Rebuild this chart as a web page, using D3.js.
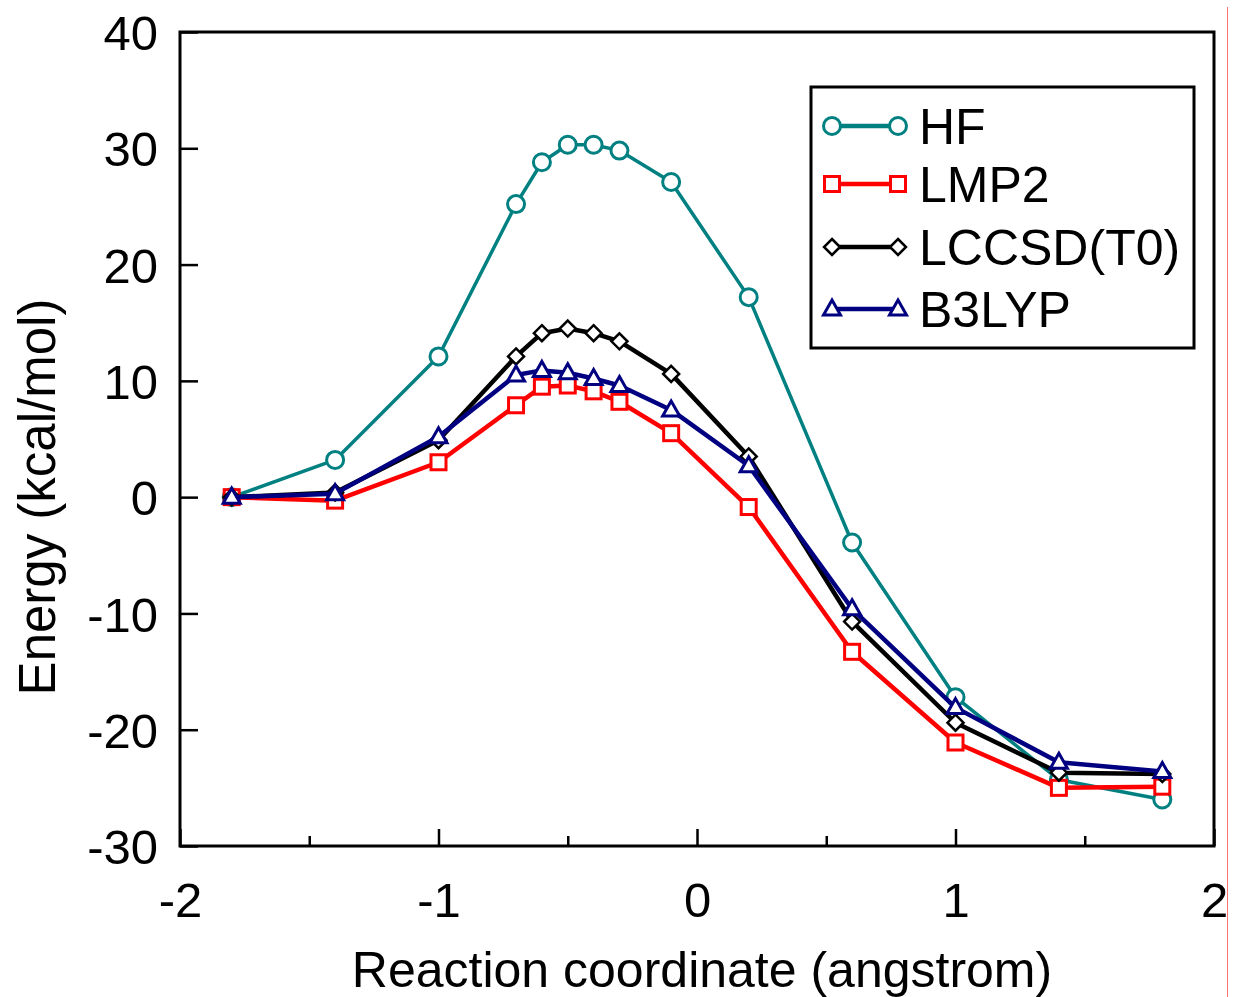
<!DOCTYPE html>
<html>
<head>
<meta charset="utf-8">
<script src="https://cdn.jsdelivr.net/npm/d3@7"></script>
<style>
  body { margin: 0; background: #fff; }
  svg { display: block; font-family: "Liberation Sans", Arial, sans-serif; }
</style>
</head>
<body>
<svg width="1236" height="997"></svg>
<script>
// reaction coordinate (angstrom)
var coord = [-1.8, -1.4, -1.0, -0.7, -0.6, -0.5, -0.4, -0.3, -0.1, 0.2, 0.6, 1.0, 1.4, 1.8];

// energies (kcal/mol)
var hf     = [0, 3.2, 12.1, 25.2, 28.8, 30.3, 30.3, 29.8, 27.1, 17.2, -3.9, -17.2, -24.3, -26.0];
var lmp2   = [0, -0.3, 3.0, 7.9, 9.5, 9.6, 9.1, 8.2, 5.5, -0.85, -13.3, -21.1, -25.0, -24.9];
var lccsd  = [0, 0.4, 4.9, 12.1, 14.1, 14.5, 14.1, 13.4, 10.6, 3.5, -10.7, -19.4, -23.7, -23.8];
var b3lyp  = [0, 0.3, 5.2, 10.5, 10.9, 10.7, 10.2, 9.6, 7.5, 2.7, -9.6, -18.1, -22.8, -23.6];

var seriesNames = ["HF", "LMP2", "LCCSD(T0)", "B3LYP"];
var xTicks = [-2, -1, 0, 1, 2];
var xMinor = [-1.5, -0.5, 0.5, 1.5];
var yTicks = [-30, -20, -10, 0, 10, 20, 30, 40];

var svg = d3.select("svg");

var x = d3.scaleLinear().domain([-2, 2]).range([180, 1214]);
var y = d3.scaleLinear().domain([-30, 40]).range([846, 32]);

var fmt = function(d){ return String(d); };   // plain hyphen minus

var series = [
  {name: seriesNames[0], values: hf,    color: "#008080", marker: "circle"},
  {name: seriesNames[1], values: lmp2,  color: "#ff0000", marker: "square"},
  {name: seriesNames[2], values: lccsd, color: "#000000", marker: "diamond"},
  {name: seriesNames[3], values: b3lyp, color: "#000080", marker: "triangle"}
];

// axes (ticks pointing in)
svg.append("g")
  .attr("transform", "translate(0,846)")
  .call(d3.axisBottom(x).tickValues(xTicks).tickSizeInner(-17).tickSizeOuter(0).tickFormat(fmt))
  .call(function(g){
    g.select(".domain").remove();
    g.selectAll(".tick line").attr("stroke", "#000").attr("stroke-width", 2.5);
    g.selectAll(".tick text").attr("font-size", 49).attr("fill", "#000")
      .attr("y", 0).attr("dy", "1.45em").style("font-family", "Liberation Sans, Arial, sans-serif");
  });

svg.append("g")
  .attr("transform", "translate(0,846)")
  .call(d3.axisBottom(x).tickValues(xMinor).tickSize(-10).tickFormat(""))
  .call(function(g){
    g.select(".domain").remove();
    g.selectAll(".tick line").attr("stroke", "#000").attr("stroke-width", 2.5);
  });

svg.append("g")
  .attr("transform", "translate(180,0)")
  .call(d3.axisLeft(y).tickValues(yTicks).tickSizeInner(-18).tickSizeOuter(0).tickFormat(fmt))
  .call(function(g){
    g.select(".domain").remove();
    g.selectAll(".tick line").attr("stroke", "#000").attr("stroke-width", 2.5);
    g.selectAll(".tick text").attr("font-size", 49).attr("fill", "#000")
      .attr("x", -22).attr("dy", "0.36em").style("font-family", "Liberation Sans, Arial, sans-serif");
  });

// frame
svg.append("rect")
  .attr("x", x(-2)).attr("y", y(40))
  .attr("width", x(2) - x(-2)).attr("height", y(-30) - y(40))
  .attr("fill", "none").attr("stroke", "#000").attr("stroke-width", 3);

// axis titles
svg.append("text")
  .attr("x", 702).attr("y", 987)
  .attr("text-anchor", "middle").attr("font-size", 50)
  .text("Reaction coordinate (angstrom)");

svg.append("text")
  .attr("transform", "translate(55,497) rotate(-90)")
  .attr("text-anchor", "middle").attr("font-size", 51)
  .text("Energy (kcal/mol)");

function drawMarker(g, type, cx, cy, color) {
  if (type === "circle") {
    g.append("circle").attr("cx", cx).attr("cy", cy).attr("r", 8.5)
      .attr("fill", "#fff").attr("stroke", color).attr("stroke-width", 3);
  } else if (type === "square") {
    g.append("rect").attr("x", cx - 7.5).attr("y", cy - 7.5).attr("width", 15).attr("height", 15)
      .attr("fill", "#fff").attr("stroke", color).attr("stroke-width", 3);
  } else if (type === "diamond") {
    g.append("path").attr("d", "M" + cx + "," + (cy - 8) + "L" + (cx + 8) + "," + cy + "L" + cx + "," + (cy + 8) + "L" + (cx - 8) + "," + cy + "Z")
      .attr("fill", "#fff").attr("stroke", color).attr("stroke-width", 2.5);
  } else {
    g.append("path").attr("d", "M" + cx + "," + (cy - 9) + "L" + (cx + 8.5) + "," + (cy + 6) + "L" + (cx - 8.5) + "," + (cy + 6) + "Z")
      .attr("fill", "#fff").attr("stroke", color).attr("stroke-width", 3);
  }
}

var line = d3.line()
  .x(function(d){ return x(d[0]); })
  .y(function(d){ return y(d[1]); });

series.forEach(function(s){
  var pts = coord.map(function(c, i){ return [c, s.values[i]]; });
  var g = svg.append("g");
  g.append("path").datum(pts)
    .attr("d", line)
    .attr("fill", "none")
    .attr("stroke", s.color)
    .attr("stroke-width", s.marker === "circle" ? 3.5 : 4.5)
    .attr("stroke-linejoin", "round");
  pts.forEach(function(p){
    drawMarker(g, s.marker, x(p[0]), y(p[1]), s.color);
  });
});

// legend
var leg = svg.append("g");
leg.append("rect")
  .attr("x", 811).attr("y", 87).attr("width", 383).attr("height", 261)
  .attr("fill", "#fff").attr("stroke", "#000").attr("stroke-width", 3);

var legY = [126, 184, 247, 309];
series.forEach(function(s, i){
  leg.append("line")
    .attr("x1", 832).attr("x2", 898)
    .attr("y1", legY[i]).attr("y2", legY[i])
    .attr("stroke", s.color).attr("stroke-width", 4.5);
  drawMarker(leg, s.marker, 832, legY[i], s.color);
  drawMarker(leg, s.marker, 898, legY[i], s.color);
  leg.append("text")
    .attr("x", 919).attr("y", legY[i]).attr("dy", "0.36em")
    .attr("font-size", 50)
    .text(s.name);
});

// cropped right edge with thin red border
svg.append("rect").attr("x", 1228).attr("y", 0).attr("width", 8).attr("height", 997).attr("fill", "#fff");
svg.append("rect").attr("x", 1227).attr("y", 7).attr("width", 1).attr("height", 990)
  .attr("fill", "#ff7070");
</script>
</body>
</html>
